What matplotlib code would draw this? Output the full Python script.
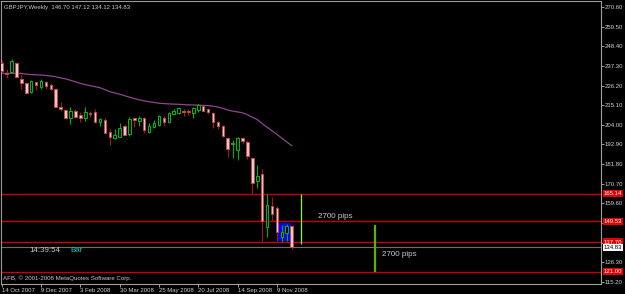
"""GBPJPY weekly candles, MetaTrader style."""

import matplotlib

matplotlib.use("Agg")
import matplotlib.pyplot as plt
from matplotlib.patches import Rectangle

plt.rcParams["font.family"] = ["Liberation Sans", "DejaVu Sans"]

W, H = 625, 294

dates = ["14 Oct 2007", "9 Dec 2007", "3 Feb 2008", "30 Mar 2008",
         "25 May 2008", "20 Jul 2008", "14 Sep 2008", "9 Nov 2008"]
date_bars = [0, 8, 16, 24, 32, 40, 48, 56]

opens = [239.13, 233.47, 234.04, 239.13, 229.74, 227.82, 222.74, 228.05, 225.56, 228.39,
         226.52, 224.26, 214.26, 212.39, 208.04, 211.83, 209.57, 208.04, 210.70, 211.43,
         205.44, 206.74, 200.13, 196.40, 196.97, 203.35, 198.66, 207.70, 206.35, 207.70,
         200.13, 202.96, 203.92, 208.04, 205.78, 210.13, 210.87, 212.00, 211.83, 210.53,
         212.39, 214.66, 212.79, 210.87, 205.78, 203.35, 196.40, 193.01, 189.79, 196.40,
         194.48, 185.10, 172.27, 176.06, 146.45, 158.14, 156.84, 140.80, 142.72, 146.70]
highs = [240.65, 235.39, 241.22, 239.52, 232.17, 228.39, 229.35, 228.39, 230.08, 228.78,
         227.48, 224.66, 217.08, 212.79, 213.92, 212.79, 211.43, 213.92, 211.83, 212.79,
         208.04, 207.70, 201.49, 201.66, 204.88, 204.48, 208.61, 208.04, 209.00, 208.61,
         204.88, 206.74, 209.57, 209.17, 211.43, 212.79, 214.26, 212.79, 212.79, 214.26,
         215.79, 215.22, 213.70, 211.43, 206.35, 203.92, 196.97, 195.44, 196.97, 197.31,
         195.44, 185.67, 181.31, 178.88, 164.76, 163.40, 158.14, 147.41, 147.97, 147.12]
lows = [234.04, 230.31, 233.47, 230.48, 224.09, 221.27, 221.83, 223.70, 224.26, 224.09,
        223.70, 213.92, 212.00, 207.14, 204.48, 207.70, 205.78, 206.35, 208.61, 205.22,
        203.35, 199.23, 192.62, 196.01, 196.97, 198.10, 197.70, 202.62, 203.35, 199.57,
        199.57, 202.05, 203.35, 203.35, 205.22, 209.57, 210.13, 209.17, 209.57, 207.70,
        211.43, 211.83, 209.97, 202.39, 201.49, 197.31, 186.01, 185.44, 184.14, 193.18,
        184.54, 165.66, 168.15, 138.54, 140.80, 149.84, 138.37, 137.97, 138.37, 134.12]
closes = [234.60, 232.57, 240.09, 230.87, 227.48, 222.17, 228.78, 226.52, 228.78, 225.96,
          224.09, 214.26, 212.79, 208.04, 211.83, 208.61, 208.04, 211.43, 210.13, 205.78,
          207.14, 199.57, 197.31, 198.27, 202.39, 198.27, 207.14, 206.74, 208.04, 201.09,
          203.35, 204.88, 209.00, 205.78, 210.87, 211.83, 213.70, 211.43, 211.27, 213.70,
          215.22, 212.00, 211.10, 205.78, 203.53, 197.87, 190.19, 193.91, 196.40, 194.88,
          186.40, 170.97, 175.27, 149.67, 158.71, 153.45, 143.28, 143.62, 146.84, 134.83]
ma = [233.13, 233.13, 233.13, 233.13, 233.08, 232.68, 232.40, 232.29, 232.17, 231.89,
      231.61, 231.16, 230.53, 229.97, 229.18, 228.33, 227.43, 226.75, 226.13, 225.56,
      225.00, 223.87, 222.79, 222.00, 221.32, 220.48, 219.63, 218.84, 218.10, 217.59,
      217.03, 216.63, 216.24, 216.01, 215.84, 215.73, 215.62, 215.45, 215.28, 215.22,
      215.16, 214.99, 214.88, 214.54, 214.09, 213.36, 212.40, 211.77, 211.32, 210.81,
      209.68, 208.33, 207.03, 204.71, 202.67, 200.64, 198.61, 196.52, 194.37, 192.22]

price_ticks = [270.60, 259.50, 248.40, 237.30, 226.20, 215.10, 204.00, 192.90,
               181.80, 170.70, 159.60, 148.50, 137.40, 126.30, 115.20]
hidden_ticks = [148.50, 137.40]
levels = [165.14, 149.53, 137.70, 121.00]
last_price = 134.83

# trendline objects: (bar, top, bottom)
pips_lines = [(61, 165.1, 136.9), (76, 147.4, 121.0)]
pips_labels = [(64.3, 152.1), (77.4, 130.9)]
box_bars = (56.3, 58.9)
box_prices = (138.4, 148.4)

fig = plt.figure(figsize=(W / 100, H / 100), dpi=100, facecolor="black")
ax = fig.add_axes([1 / W, (H - 284) / H, 600 / W, 283 / H])
ax.set_facecolor("black")
ax.set_xlim(-0.14, 121.94)
ax.set_ylim(114.07, 273.99)

ax.add_patch(Rectangle((box_bars[0], box_prices[0]), box_bars[1] - box_bars[0],
                       box_prices[1] - box_prices[0], facecolor="#0000ff", lw=0, zorder=1))

for lv in levels:
    ax.axhline(lv, color="#c80000", lw=1.0, zorder=2)
ax.axhline(last_price, color="#6e6e6e", lw=0.8, zorder=2)

ax.plot(range(len(ma)), ma, color="#8e468e", lw=0.9, zorder=2)

for i, (o, h, l, c) in enumerate(zip(opens, highs, lows, closes)):
    bull = c >= o
    wick = "#00b000" if bull else "#a01818"
    ax.vlines(i, l, h, color=wick, lw=0.8, zorder=3)
    face = "black" if bull else "#e8c8c8"
    edge = "#00c000" if bull else "#c04848"
    ax.add_patch(Rectangle((i - 0.26, min(o, c)), 0.52, max(abs(c - o), 0.35),
                           facecolor=face, edgecolor=edge, lw=0.7, zorder=4))

(b1, t1, d1), (b2, t2, d2) = pips_lines
ax.vlines(b1, d1, t1, color="#88ff00", lw=0.9, zorder=3)
ax.vlines(b2, d2, t2, color="#60b000", lw=1.6, zorder=3)
for x, y in pips_labels:
    ax.text(x, y, "2700 pips", color="#c8c8c8", fontsize=5.8, va="center", ha="left")

for side in ("left", "top"):
    ax.spines[side].set_color("#9a9a9a")
    ax.spines[side].set_linewidth(0.8)
for side in ("right", "bottom"):
    ax.spines[side].set_color("#a0a0a0")
    ax.spines[side].set_linewidth(0.8)

ax.yaxis.tick_right()
ax.set_yticks(price_ticks)
ax.set_yticklabels(["" if p in hidden_ticks else f"{p:.2f}" for p in price_ticks])
ax.set_xticks(date_bars)
ax.set_xticklabels(dates, ha="left")
ax.tick_params(axis="y", colors="#a0a0a0", labelcolor="#d0d0d0", labelsize=4.3,
               length=2.2, width=0.7, pad=0.6)
ax.tick_params(axis="x", colors="#a0a0a0", labelcolor="#d0d0d0", labelsize=4.3,
               length=2.2, width=0.7, pad=0.4)

ytr = ax.get_yaxis_transform()
for lv in levels:
    ax.text(1.0045, lv, f"{lv:.2f}", transform=ytr, fontsize=4.3, color="white",
            va="center", ha="left", clip_on=False, zorder=6,
            bbox=dict(boxstyle="square,pad=0.2", facecolor="#e00000", edgecolor="none"))
ax.text(1.0045, last_price, f"{last_price:.2f}", transform=ytr, fontsize=4.3, color="black",
        va="center", ha="left", clip_on=False, zorder=6,
        bbox=dict(boxstyle="square,pad=0.2", facecolor="white", edgecolor="none"))

fig.text(4 / W, 1 - 7 / H, "GBPJPY,Weekly  146.70 147.12 134.12 134.83",
         color="#c8c8c8", fontsize=4.3, va="center", ha="left")
fig.text(29 / W, 1 - 251 / H, "14:39:54", color="#c8c8c8", fontsize=5.7, va="center", ha="left")
fig.text(70 / W, 1 - 251 / H, "Bar", color="#00c8c8", fontsize=5.7, va="center", ha="left")
fig.text(3 / W, 1 - 278 / H, "AFB, \u00a9 2001-2008 MetaQuotes Software Corp.",
         color="#c8c8c8", fontsize=4.4, va="center", ha="left")

fig.savefig("out.png", dpi=100, facecolor="black")
